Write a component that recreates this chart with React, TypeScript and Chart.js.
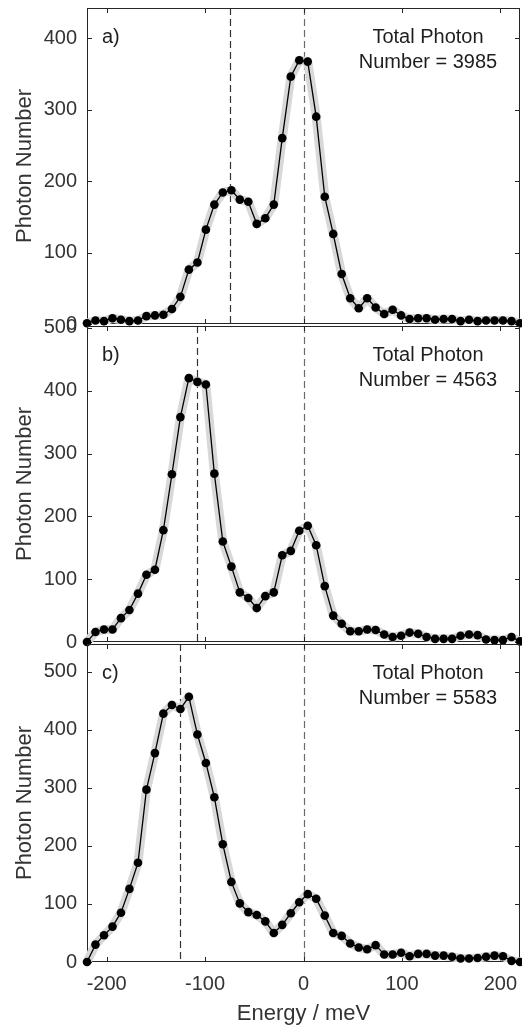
import React, { useEffect, useRef } from "react";
import { Chart, registerables } from "chart.js";
Chart.register(...registerables);

// ---- data ----
const energy = [
  -220, -211.4, -202.7, -194.1, -185.5, -176.9, -168.2, -159.6, -151.0, -142.4,
  -133.7, -125.1, -116.5, -107.8, -99.2, -90.6, -82.0, -73.3, -64.7, -56.1,
  -47.5, -38.8, -30.2, -21.6, -12.9, -4.3, 4.3, 12.9, 21.6, 30.2,
  38.8, 47.5, 56.1, 64.7, 73.3, 82.0, 90.6, 99.2, 107.8, 116.5,
  125.1, 133.7, 142.4, 151.0, 159.6, 168.2, 176.9, 185.5, 194.1, 202.7,
  211.4, 220,
];
const countsA = [
  1, 5, 4, 8, 6, 4, 5, 11, 12, 13,
  21, 38, 76, 86, 132, 167, 184, 187, 174, 171,
  140, 148, 167, 260, 346, 369, 367, 290, 178, 126,
  70, 36, 22, 36, 23, 14, 20, 12, 7, 8,
  8, 6, 7, 7, 4, 6, 4, 5, 5, 5,
  4, 1,
];
const countsB = [
  0, 16, 20, 20, 38, 51, 77, 107, 115, 178,
  267, 358, 420, 414, 410, 268, 160, 120, 79, 70,
  54, 73, 79, 138, 145, 177, 185, 154, 89, 42,
  29, 17, 17, 20, 19, 12, 8, 10, 15, 13,
  8, 5, 5, 5, 10, 12, 11, 4, 3, 3,
  8, 1,
];
const countsC = [
  0, 30, 46, 61, 85, 126, 171, 297, 360, 428,
  443, 436, 457, 392, 343, 284, 203, 138, 101, 86,
  81, 70, 50, 64, 84, 103, 117, 109, 80, 50,
  45, 32, 25, 22, 29, 13, 13, 16, 10, 14,
  14, 11, 11, 9, 6, 6, 7, 9, 11, 10,
  2, 0,
];
const xTicks = [-200, -100, 0, 100, 200];
const yTicksA = [0, 100, 200, 300, 400];
const yTicksB = [0, 100, 200, 300, 400, 500];
const yTicksC = [0, 100, 200, 300, 400, 500];
const yMaxA = 442;
const yMaxB = 503;
const yMaxC = 548;
const dashA = [-75, 0];
const dashB = [-108, 0];
const dashC = [-126, 0];
const panelLabels = ["a)", "b)", "c)"];
const totals = [3985, 4563, 5583];

const FONT = "'Liberation Sans', Arial, Helvetica, sans-serif";
const W = 522;
const H = 1030;
const CW = 560; // canvas width (wider than page, clipped)
const RIGHT = 520; // chart area right edge
const PAD = 40;

type Panel = {
  counts: number[];
  yTicks: number[];
  yMax: number;
  dashes: number[];
  label: string;
  total: number;
  top: number; // chart area top (page px)
  bottom: number; // chart area bottom (page px)
  showX: boolean;
};

const panels: Panel[] = [
  { counts: countsA, yTicks: yTicksA, yMax: yMaxA, dashes: dashA, label: panelLabels[0], total: totals[0], top: 8, bottom: 324, showX: false },
  { counts: countsB, yTicks: yTicksB, yMax: yMaxB, dashes: dashB, label: panelLabels[1], total: totals[1], top: 326, bottom: 642, showX: false },
  { counts: countsC, yTicks: yTicksC, yMax: yMaxC, dashes: dashC, label: panelLabels[2], total: totals[2], top: 644, bottom: 962, showX: true },
];

function canvasBox(p: Panel) {
  const top = p.top - PAD;
  const bottom = p.showX ? H : p.bottom + PAD;
  return { top, height: bottom - top };
}

function makeDecor(p: Panel) {
  return {
    id: "decor",
    beforeDatasetsDraw(chart: any) {
      const { ctx, chartArea: a, scales } = chart;
      ctx.save();
      // dashed reference lines
      ctx.lineWidth = 1.2;
      ctx.setLineDash([7, 4]);
      p.dashes.forEach((v, i) => {
        const x = Math.round(scales.x.getPixelForValue(v)) + 0.5;
        ctx.strokeStyle = i === 0 ? "#333333" : "#6a6a6a";
        ctx.beginPath();
        ctx.moveTo(x, a.top);
        ctx.lineTo(x, a.bottom);
        ctx.stroke();
      });
      ctx.setLineDash([]);
      // frame
      ctx.strokeStyle = "#262626";
      ctx.lineWidth = 1;
      ctx.strokeRect(a.left + 0.5, a.top + 0.5, a.right - a.left - 1, a.bottom - a.top - 1);
      // inward ticks
      const tl = 5;
      ctx.beginPath();
      xTicks.forEach((v) => {
        const x = Math.round(scales.x.getPixelForValue(v)) + 0.5;
        ctx.moveTo(x, a.bottom);
        ctx.lineTo(x, a.bottom - tl);
        ctx.moveTo(x, a.top);
        ctx.lineTo(x, a.top + tl);
      });
      p.yTicks.forEach((v) => {
        const y = Math.round(scales.y.getPixelForValue(v)) + 0.5;
        ctx.moveTo(a.left, y);
        ctx.lineTo(a.left + tl, y);
        ctx.moveTo(a.right, y);
        ctx.lineTo(a.right - tl, y);
      });
      ctx.stroke();
      ctx.restore();
    },
    afterDatasetsDraw(chart: any) {
      const { ctx, chartArea: a } = chart;
      ctx.save();
      ctx.fillStyle = "#1e1e1e";
      ctx.font = `20px ${FONT}`;
      ctx.textBaseline = "middle";
      ctx.textAlign = "left";
      ctx.fillText(p.label, a.left + 15, a.top + 29);
      ctx.textAlign = "center";
      const cx = a.right - 92;
      ctx.fillText("Total Photon", cx, a.top + 29);
      ctx.fillText(`Number = ${p.total}`, cx, a.top + 54);
      ctx.restore();
    },
  };
}

function PanelChart({ p }: { p: Panel }) {
  const ref = useRef<HTMLCanvasElement | null>(null);
  const box = canvasBox(p);
  useEffect(() => {
    if (!ref.current) return;
    const pts = energy.map((x, i) => ({ x, y: p.counts[i] }));
    const chart = new Chart(ref.current, {
      type: "line",
      data: {
        datasets: [
          {
            data: pts,
            borderColor: "#000000",
            borderWidth: 1.3,
            pointRadius: 4.3,
            pointBackgroundColor: "#000000",
            pointBorderWidth: 0,
            tension: 0,
            clip: false as any,
          },
          {
            data: pts,
            borderColor: "#d8d8d8",
            borderWidth: 9,
            pointRadius: 0,
            tension: 0,
            borderJoinStyle: "round",
            borderCapStyle: "round",
            clip: { left: 6, right: 6, top: 6, bottom: 0 } as any,
          },
        ],
      },
      options: {
        responsive: false,
        animation: false,
        events: [],
        layout: {
          padding: { top: PAD, bottom: p.showX ? 0 : PAD, left: 0, right: CW - RIGHT },
        },
        plugins: {
          legend: { display: false },
          tooltip: { enabled: false },
        },
        scales: {
          x: {
            type: "linear",
            min: -220,
            max: 220,
            display: p.showX,
            afterBuildTicks: (s: any) => {
              s.ticks = xTicks.map((v) => ({ value: v }));
            },
            afterFit: (s: any) => {
              if (p.showX) s.height = H - p.bottom;
            },
            grid: { display: false, drawTicks: false },
            border: { display: false },
            ticks: {
              color: "#333333",
              font: { size: 20, family: FONT },
              padding: 10,
              maxRotation: 0,
            },
            title: {
              display: true,
              text: "Energy / meV",
              color: "#333333",
              font: { size: 22, family: FONT },
              padding: { top: 0, bottom: 3 },
            },
          },
          y: {
            type: "linear",
            min: 0,
            max: p.yMax,
            afterBuildTicks: (s: any) => {
              s.ticks = p.yTicks.map((v) => ({ value: v }));
            },
            afterFit: (s: any) => {
              s.width = 87;
            },
            grid: { display: false, drawTicks: false },
            border: { display: false },
            ticks: {
              color: "#333333",
              font: { size: 20, family: FONT },
              padding: 10,
            },
            title: {
              display: true,
              text: "Photon Number",
              color: "#333333",
              font: { size: 22, family: FONT },
              padding: { top: 12, bottom: 0 },
            },
          },
        },
      },
      plugins: [makeDecor(p)],
    } as any);
    return () => chart.destroy();
  }, []);
  return (
    <canvas
      ref={ref}
      width={CW}
      height={box.height}
      style={{ position: "absolute", left: 0, top: box.top, width: CW, height: box.height }}
    />
  );
}

export default function App() {
  return (
    <div
      style={{
        position: "fixed",
        left: 0,
        top: 0,
        width: W,
        height: H,
        overflow: "hidden",
        background: "#ffffff",
      }}
    >
      {panels.map((p, i) => (
        <PanelChart key={i} p={p} />
      ))}
    </div>
  );
}
